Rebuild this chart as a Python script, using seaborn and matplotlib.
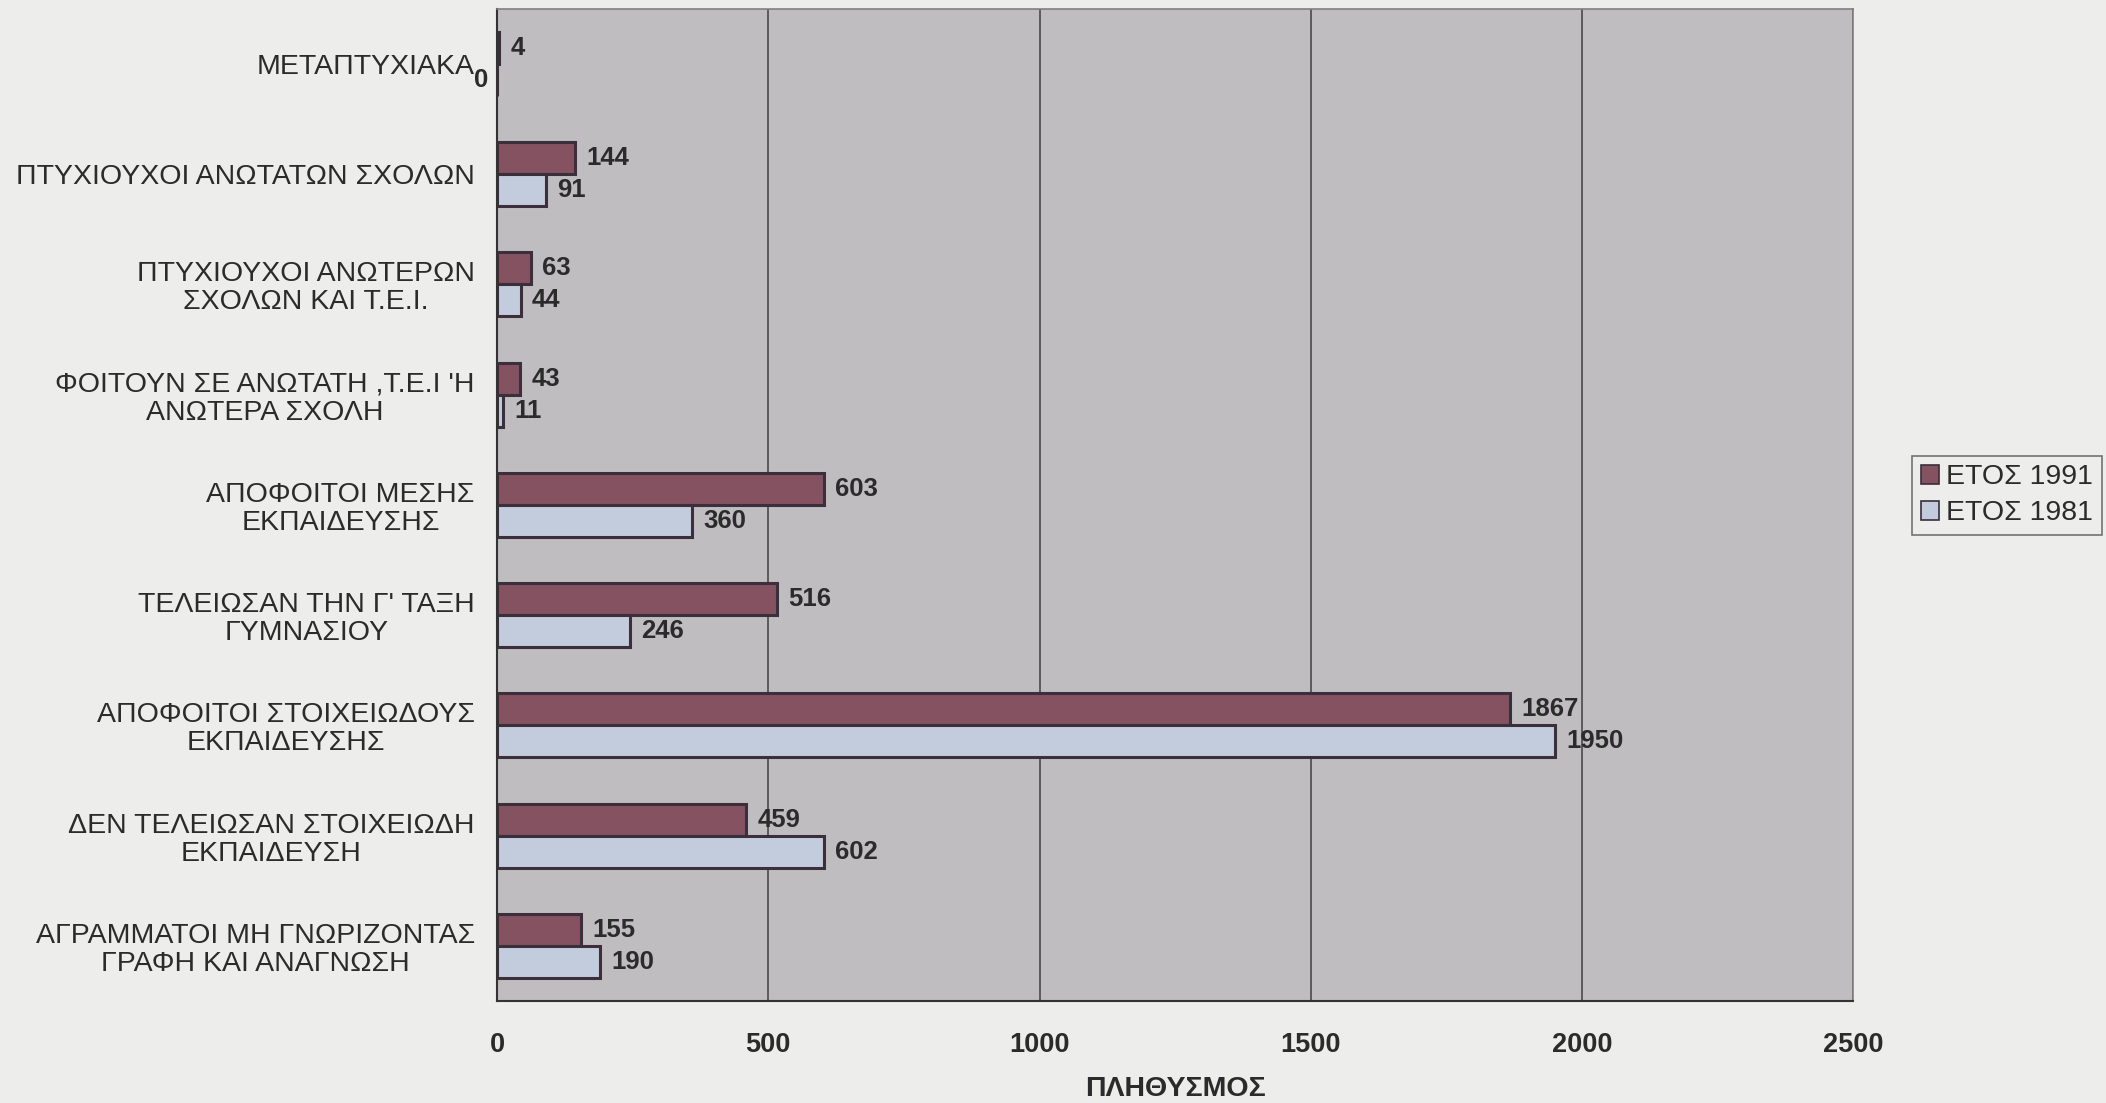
import numpy as np
import pandas as pd
import seaborn as sns
import matplotlib.pyplot as plt

# Categories from top to bottom, as in the original chart
categories = [
    "ΜΕΤΑΠΤΥΧΙΑΚΑ",
    "ΠΤΥΧΙΟΥΧΟΙ ΑΝΩΤΑΤΩΝ ΣΧΟΛΩΝ",
    "ΠΤΥΧΙΟΥΧΟΙ ΑΝΩΤΕΡΩΝ\nΣΧΟΛΩΝ ΚΑΙ Τ.Ε.Ι.",
    "ΦΟΙΤΟΥΝ ΣΕ ΑΝΩΤΑΤΗ ,Τ.Ε.Ι 'Η\nΑΝΩΤΕΡΑ ΣΧΟΛΗ",
    "ΑΠΟΦΟΙΤΟΙ ΜΕΣΗΣ\nΕΚΠΑΙΔΕΥΣΗΣ",
    "ΤΕΛΕΙΩΣΑΝ ΤΗΝ Γ' ΤΑΞΗ\nΓΥΜΝΑΣΙΟΥ",
    "ΑΠΟΦΟΙΤΟΙ ΣΤΟΙΧΕΙΩΔΟΥΣ\nΕΚΠΑΙΔΕΥΣΗΣ",
    "ΔΕΝ ΤΕΛΕΙΩΣΑΝ ΣΤΟΙΧΕΙΩΔΗ\nΕΚΠΑΙΔΕΥΣΗ",
    "ΑΓΡΑΜΜΑΤΟΙ ΜΗ ΓΝΩΡΙΖΟΝΤΑΣ\nΓΡΑΦΗ ΚΑΙ ΑΝΑΓΝΩΣΗ",
]
values_1991 = [4, 144, 63, 43, 603, 516, 1867, 459, 155]
values_1981 = [0, 91, 44, 11, 360, 246, 1950, 602, 190]
years = ["ΕΤΟΣ 1991", "ΕΤΟΣ 1981"]
x_ticks = [0, 500, 1000, 1500, 2000, 2500]

df = pd.DataFrame({
    "category": categories * 2,
    "year": [years[0]] * len(categories) + [years[1]] * len(categories),
    "value": values_1991 + values_1981,
})

sns.set_theme(style="white")
plt.rcParams['font.family'] = ['Liberation Sans', 'DejaVu Sans']
text_color = '#2b2b2b'

fig = plt.figure(figsize=(21.06, 11.03), dpi=100, facecolor='#ededeb')
ax = fig.add_axes([0.236, 0.0925, 0.644, 0.8995])
ax.set_facecolor('#bfbdbf')

sns.barplot(data=df, y="category", x="value", hue="year", order=categories,
            hue_order=years, palette=['#8c4a5e', '#bfcbe0'], width=0.58,
            edgecolor='#3a2f3a', linewidth=2.2, ax=ax)

# value labels; the zero sits left of the axis like in the scan
for cont, vals in zip(ax.containers, [values_1991, values_1981]):
    labels = [str(v) if v != 0 else '' for v in vals]
    ax.bar_label(cont, labels=labels, padding=8, fontsize=18.5,
                 fontweight='bold', color=text_color)
    for p, v in zip(cont.patches, vals):
        if v == 0:
            ax.annotate('0', (0, p.get_y() + p.get_height() / 2),
                        xytext=(-6, 0), textcoords='offset points',
                        ha='right', va='center', fontsize=18.5,
                        fontweight='bold', color=text_color)

ax.set_xlim(x_ticks[0], x_ticks[-1])
ax.set_xticks(x_ticks)
ax.set_xticklabels([str(t) for t in x_ticks], fontsize=19.5, fontweight='bold',
                   color=text_color)
ax.xaxis.grid(True, color='#4a4a4a', linewidth=1.2)
ax.yaxis.grid(False)
ax.set_axisbelow(True)

ax.set_ylim(len(categories) - 0.5, -0.5)
ax.set_yticks(np.arange(-0.5, len(categories), 1), minor=True)
ax.tick_params(axis='y', which='major', length=0, pad=16, labelsize=20.5,
               labelcolor=text_color)
ax.tick_params(axis='y', which='minor', length=6, width=1.2, color='#333333')
ax.tick_params(axis='x', length=5, width=1.2, color='#333333', pad=17)
for lbl in ax.get_yticklabels():
    lbl.set_multialignment('center')
    lbl.set_linespacing(1.1)

ax.set_ylabel('')
ax.set_xlabel('ΠΛΗΘΥΣΜΟΣ', fontsize=20.5, fontweight='bold', color=text_color,
              labelpad=13)

for side in ['left', 'bottom']:
    ax.spines[side].set_color('#333333')
    ax.spines[side].set_linewidth(1.5)
for side in ['top', 'right']:
    ax.spines[side].set_color('#808080')
    ax.spines[side].set_linewidth(1.2)

handles, labels = ax.get_legend_handles_labels()
ax.get_legend().remove()
leg = fig.legend(handles, labels, loc='upper left', bbox_to_anchor=(0.908, 0.587),
                 fontsize=20.5, frameon=True, fancybox=False, edgecolor='#555555',
                 facecolor='#ededeb', borderpad=0.3, borderaxespad=0,
                 handlelength=0.65, handleheight=0.65, handletextpad=0.25,
                 labelspacing=0.35)
leg.get_frame().set_linewidth(1.2)
for h in leg.get_patches():
    h.set_edgecolor('#3a2f3a')
    h.set_linewidth(1.2)
for t in leg.get_texts():
    t.set_color(text_color)

fig.savefig('out.png', dpi=100, facecolor=fig.get_facecolor())
